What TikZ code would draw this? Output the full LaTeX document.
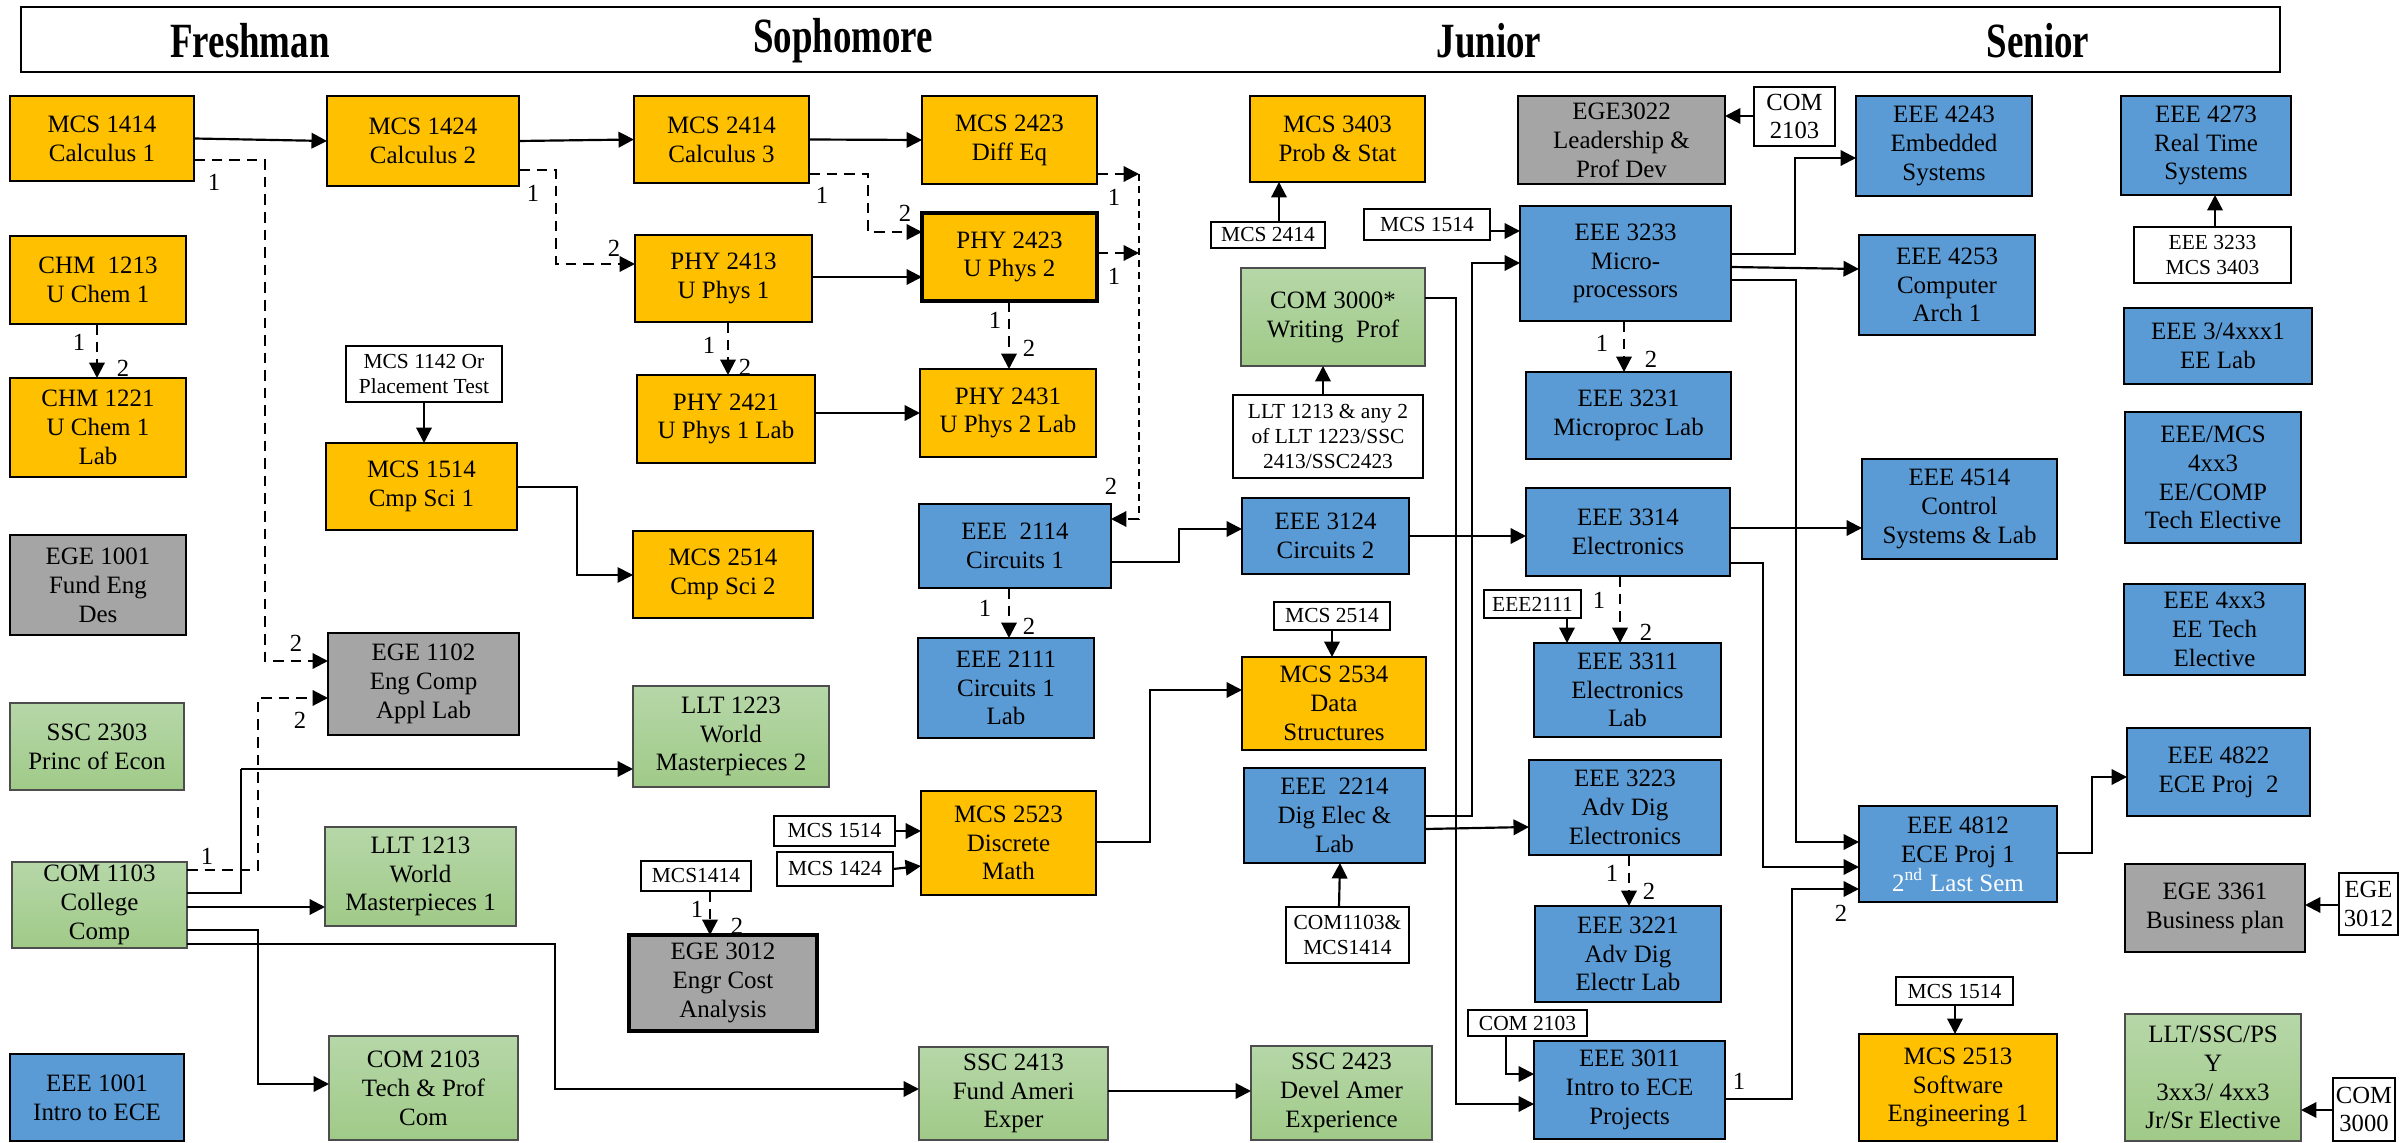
\documentclass[tikz,border=0pt]{standalone}
\usepackage{fontspec}
\setmainfont{Liberation Serif}
\usepackage{graphicx}
\usetikzlibrary{arrows.meta}
\definecolor{cOr}{HTML}{FFC000}
\definecolor{cBl}{HTML}{5B9BD5}
\definecolor{cGy}{HTML}{A5A5A5}
\definecolor{cGt}{HTML}{B6D7A8}
\definecolor{cGb}{HTML}{A0CA88}
\definecolor{cGe}{HTML}{4D4D4D}
\newcommand\Bx[7]{\node[#1, minimum width={(#5-#3)*0.01cm}, minimum height={(#6-#4)*0.01cm}] (#2) at ({(#3+#5)/2},{(#4+#6)/2}) {#7};}
\newcommand\Lb[3]{\node[lbl] (#1) at (#2) {#3};}
\newcommand\Hd[3]{\node[hdt] (#1) at (#2) {\scalebox{0.75}[1]{#3}};}
\begin{document}
\begin{tikzpicture}[x=0.01cm,y=-0.01cm,
  base/.style={inner sep=0pt, outer sep=0pt, align=center, font=\fontsize{7.1}{8.2}\selectfont},
  ob/.style={base, fill=cOr, draw=black, line width=0.75pt},
  bb/.style={base, fill=cBl, draw=black, line width=0.75pt},
  gb/.style={base, fill=cGy, draw=black, line width=0.75pt},
  grb/.style={base, top color=cGt, bottom color=cGb, draw=cGe, line width=0.45pt},
  wb/.style={base, fill=white, draw=black, line width=0.5pt, font=\fontsize{6.1}{7.2}\selectfont},
  wbl/.style={wb, font=\fontsize{7}{8.2}\selectfont},
  thk/.style={line width=1.4pt},
  ar/.style={line width=0.62pt, -{Triangle[length=4.4pt,width=4.4pt]}},
  dar/.style={ar, dash pattern=on 3pt off 2pt},
  thn/.style={line width=0.4pt},
  lbl/.style={inner sep=0pt, font=\fontsize{7}{8}\selectfont},
  hdt/.style={inner sep=0pt, font=\fontsize{14}{16}\selectfont\bfseries}]
\useasboundingbox (0,0) rectangle (2402,1143);
% header
\Bx{base,draw=black,line width=0.8pt}{hdr}{21}{7}{2280}{72}{}
\Hd{hF}{250,41}{Freshman}
\Hd{hS}{843,41}{Sophomore}
\Hd{hJ}{1489,41}{Junior}
\Hd{hR}{2038,41}{Senior}
% orange
\Bx{ob}{m1414}{10}{96}{194}{181}{MCS 1414\\Calculus 1}
\Bx{ob}{m1424}{327}{96}{519}{186}{MCS 1424\\Calculus 2}
\Bx{ob}{m2414}{634}{96}{809}{183}{MCS 2414\\Calculus 3}
\Bx{ob}{m2423}{922}{96}{1097}{184}{MCS 2423\\Diff Eq}
\Bx{ob}{m3403}{1250}{96}{1425}{182}{MCS 3403\\Prob \& Stat}
\Bx{ob}{chm1213}{10}{236}{186}{324}{CHM\ \ 1213\\U Chem 1}
\Bx{ob}{chm1221}{10}{378}{186}{477}{CHM 1221\\U Chem 1\\Lab}
\Bx{ob}{p2413}{635}{235}{812}{322}{PHY 2413\\U Phys 1}
\Bx{ob,thk}{p2423}{922}{213}{1097}{301}{PHY 2423\\U Phys 2}
\Bx{ob}{p2421}{637}{375}{815}{463}{PHY 2421\\U Phys 1 Lab}
\Bx{ob}{p2431}{920}{369}{1096}{457}{PHY 2431\\U Phys 2 Lab}
\Bx{ob}{m1514}{326}{443}{517}{530}{MCS 1514\\Cmp Sci 1}
\Bx{ob}{m2514}{633}{531}{813}{618}{MCS 2514\\Cmp Sci 2}
\Bx{ob}{m2523}{921}{791}{1096}{895}{MCS 2523\\Discrete\\Math}
\Bx{ob}{m2534}{1242}{657}{1426}{750}{MCS 2534\\Data\\Structures}
\Bx{ob}{m2513}{1859}{1034}{2057}{1141}{MCS 2513\\Software\\Engineering 1}
% gray
\Bx{gb}{ege1001}{10}{535}{186}{635}{EGE 1001\\Fund Eng\\Des}
\Bx{gb}{ege1102}{328}{633}{519}{735}{EGE 1102\\Eng Comp\\Appl Lab}
\Bx{gb,thk}{ege3012}{629}{935}{817}{1031}{EGE 3012\\Engr Cost\\Analysis}
\Bx{gb}{ege3022}{1518}{96}{1725}{184}{EGE3022\\Leadership \&\\Prof Dev}
\Bx{gb}{ege3361}{2125}{864}{2305}{952}{EGE 3361\\Business plan}
% green
\Bx{grb}{ssc2303}{10}{703}{184}{790}{SSC 2303\\Princ of Econ}
\Bx{grb}{com1103}{12}{862}{187}{948}{COM 1103\\College\\Comp}
\Bx{grb}{llt1213}{325}{827}{516}{926}{LLT 1213\\World\\Masterpieces 1}
\Bx{grb}{llt1223}{633}{686}{829}{787}{LLT 1223\\World\\Masterpieces 2}
\Bx{grb}{com2103}{329}{1036}{518}{1140}{COM 2103\\Tech \& Prof\\Com}
\Bx{grb}{ssc2413}{919}{1047}{1108}{1140}{SSC 2413\\Fund Ameri\\Exper}
\Bx{grb}{ssc2423}{1251}{1046}{1432}{1140}{SSC 2423\\Devel Amer\\Experience}
\Bx{grb}{com3000}{1241}{268}{1425}{366}{COM 3000*\\Writing\ \ Prof}
\Bx{grb}{lltssc}{2125}{1014}{2301}{1141}{LLT/SSC/PS\\Y\\3xx3/ 4xx3\\Jr/Sr Elective}
% blue
\Bx{bb}{eee1001}{10}{1054}{184}{1141}{EEE 1001\\Intro to ECE}
\Bx{bb}{eee2114}{919}{504}{1111}{588}{EEE\ \ 2114\\Circuits 1}
\Bx{bb}{eee2111}{918}{638}{1094}{738}{EEE 2111\\Circuits 1\\Lab}
\Bx{bb}{eee3124}{1242}{498}{1409}{574}{EEE 3124\\Circuits 2}
\Bx{bb}{eee2214}{1244}{768}{1425}{863}{EEE\ \ 2214\\Dig Elec \&\\Lab}
\Bx{bb}{eee3233}{1520}{206}{1731}{321}{EEE 3233\\Micro-\\processors}
\Bx{bb}{eee3231}{1526}{372}{1731}{459}{EEE 3231\\Microproc Lab}
\Bx{bb}{eee3314}{1526}{488}{1730}{576}{EEE 3314\\Electronics}
\Bx{bb}{eee3311}{1534}{643}{1721}{737}{EEE 3311\\Electronics\\Lab}
\Bx{bb}{eee3223}{1529}{760}{1721}{855}{EEE 3223\\Adv Dig\\Electronics}
\Bx{bb}{eee3221}{1535}{906}{1721}{1002}{EEE 3221\\Adv Dig\\Electr Lab}
\Bx{bb}{eee3011}{1534}{1041}{1725}{1139}{EEE 3011\\Intro to ECE\\Projects}
\Bx{bb}{eee4243}{1856}{96}{2032}{196}{EEE 4243\\Embedded\\Systems}
\Bx{bb}{eee4253}{1859}{235}{2035}{335}{EEE 4253\\Computer\\Arch 1}
\Bx{bb}{eee4514}{1862}{459}{2057}{559}{EEE 4514\\Control\\Systems \& Lab}
\Bx{bb}{eee4812}{1859}{806}{2057}{902}{EEE 4812\\ECE Proj 1\\{\color{white}2\textsuperscript{nd} Last Sem}}
\Bx{bb}{eee4273}{2121}{96}{2291}{195}{EEE 4273\\Real Time\\Systems}
\Bx{bb}{eee34}{2124}{308}{2312}{384}{EEE 3/4xxx1\\EE Lab}
\Bx{bb}{eeemcs}{2125}{412}{2301}{543}{EEE/MCS\\4xx3\\EE/COMP\\Tech Elective}
\Bx{bb}{eee4xx3}{2124}{584}{2305}{675}{EEE 4xx3\\EE Tech\\Elective}
\Bx{bb}{eee4822}{2127}{728}{2310}{816}{EEE 4822\\ECE Proj\ \ 2}
% white prerequisite boxes
\Bx{wb}{wA}{346}{346}{502}{402}{MCS 1142 Or\\Placement Test}
\Bx{wb}{wB}{1211}{222}{1325}{248}{MCS 2414}
\Bx{wb}{wC}{1364}{209}{1490}{240}{MCS 1514}
\Bx{wbl}{wD}{1754}{87}{1835}{146}{COM\\2103}
\Bx{wb}{wE}{1233}{395}{1423}{478}{LLT 1213 \& any 2\\of LLT 1223/SSC\\2413/SSC2423}
\Bx{wb}{wF}{2134}{227}{2291}{283}{EEE 3233\\MCS 3403}
\Bx{wb}{wG}{1274}{602}{1390}{630}{MCS 2514}
\Bx{wb}{wH}{1484}{590}{1581}{618}{EEE2111}
\Bx{wb}{wI}{774}{816}{895}{846}{MCS 1514}
\Bx{wb}{wJ}{777}{852}{893}{886}{MCS 1424}
\Bx{wb}{wK}{641}{861}{751}{891}{MCS1414}
\Bx{wb}{wL}{1286}{907}{1409}{963}{COM1103\&\\MCS1414}
\Bx{wb}{wM}{1468}{1010}{1587}{1036}{COM 2103}
\Bx{wb}{wN}{1896}{977}{2013}{1005}{MCS 1514}
\Bx{wbl}{wO}{2339}{873}{2398}{935}{EGE\\3012}
\Bx{wbl}{wP}{2333}{1078}{2395}{1141}{COM\\3000}
% bus coordinates
\coordinate (bus1) at (1139,174);
\coordinate (bus2) at (1139,253);
\coordinate (bus3) at (1139,519);
% solid connectors
\draw[ar] (m1414.east) -- (m1424.west);
\draw[ar] (m1424.east) -- (m2414.west);
\draw[ar] (m2414.east) -- (m2423.west);
\draw[ar] (wA.south) -- (wA.south |- m1514.north);
\draw[ar,line width=0.5pt] (m1514.east |- 0,487) -| (577,575) -- (m2514.west |- 0,575);
\draw[thn] (com1103.east |- 0,893) -| (241,769);
\draw[ar] (241,769) -- (llt1223.west |- 0,769);
\draw[ar] (com1103.east |- 0,907) -- (llt1213.west |- 0,907);
\draw[ar] (com1103.east |- 0,930) -| (258,1084) -- (com2103.west |- 0,1084);
\draw[ar] (com1103.east |- 0,944) -| (555,1089) -- (ssc2413.west |- 0,1089);
\draw[ar] (p2413.east |- 0,277) -- (p2423.west |- 0,277);
\draw[ar] (p2421.east |- 0,413) -- (p2431.west |- 0,413);
\draw[ar] (eee2114.east |- 0,562) -| (1179,529) -- (eee3124.west |- 0,529);
\draw[ar] (eee3124.east |- 0,536) -- (eee3314.west |- 0,536);
\draw[ar] (eee3314.east |- 0,528) -- (eee4514.west |- 0,528);
\draw[ar] (eee3314.east |- 0,563) -| (1763,867) -- (eee4812.west |- 0,867);
\draw[ar] (wG.south -| 1332,0) -- (m2534.north -| 1332,0);
\draw[thn] (m2523.east |- 0,842) -| (1150,690) -- (1194,690);
\draw[ar] (1194,690) -- (m2534.west |- 0,690);
\draw[ar] (wI.east) -- (m2523.west |- wI.east);
\draw[ar] (wJ.east) -- (m2523.west |- 0,866);
\draw[ar] (ssc2413.east |- 0,1091) -- (ssc2423.west |- 0,1091);
\draw[ar] (wB.north -| 1279,0) -- (m3403.south -| 1279,0);
\draw[ar] (wE.north -| 1323,0) -- (com3000.south -| 1323,0);
\draw[ar] (com3000.east |- 0,298) -| (1456,1104) -- (eee3011.west |- 0,1104);
\draw[ar] (eee2214.east |- 0,816) -| (1472,263) -- (eee3233.west |- 0,263);
\draw[ar] (eee2214.east |- 0,829) -- (eee3223.west |- 0,827);
\draw[ar] (wL.north -| 1339,0) -- (eee2214.south -| 1340,0);
\draw[ar] (wC.east |- 0,231) -- (eee3233.west |- 0,231);
\draw[ar] (wD.west |- 0,116) -- (ege3022.east |- 0,116);
\draw[ar] (eee3233.east |- 0,254) -| (1795,158) -- (eee4243.west |- 0,158);
\draw[ar] (eee3233.east |- 0,267) -- (eee4253.west |- 0,269);
\draw[ar] (eee3233.east |- 0,280) -| (1796,842) -- (eee4812.west |- 0,842);
\draw[ar] (wH.south -| 1567,0) -- (eee3311.north -| 1567,0);
\draw[ar] (wM.south -| 1506,0) |- (eee3011.west |- 0,1074);
\draw[ar] (eee3011.east |- 0,1099) -| (1792,889) -- (eee4812.west |- 0,889);
\draw[ar] (eee4812.east |- 0,853) -| (2092,777) -- (eee4822.west |- 0,777);
\draw[ar] (wF.north -| 2215,0) -- (eee4273.south -| 2215,0);
\draw[ar] (wO.west |- 0,905) -- (ege3361.east |- 0,905);
\draw[ar] (wN.south -| 1955,0) -- (m2513.north -| 1955,0);
\draw[ar] (wP.west |- 0,1110) -- (lltssc.east |- 0,1110);
% dashed connectors
\draw[dar] (m1414.east |- 0,160) -| (265,661) -- (ege1102.west |- 0,661);
\draw[dar] (m1424.east |- 0,170) -| (556,264) -- (p2413.west |- 0,264);
\draw[dar] (chm1213.south -| 97,0) -- (chm1221.north -| 97,0);
\draw[dar] (com1103.east |- 0,870) -| (258,698) -- (ege1102.west |- 0,698);
\draw[dar] (m2414.east |- 0,174) -| (868,232) -- (p2423.west |- 0,232);
\draw[dar] (p2413.south -| 728,0) -- (p2421.north -| 728,0);
\draw[dar] (p2423.south -| 1009,0) -- (p2431.north -| 1009,0);
\draw[dar] (m2423.east |- bus1) -- (bus1);
\draw[dar] (p2423.east |- bus2) -- (bus2);
\draw[thn, dash pattern=on 2pt off 1.5pt] (bus1) -- (bus3);
\draw[dar] (bus3) -- (eee2114.east |- bus3);
\draw[dar] (eee2114.south -| 1009,0) -- (eee2111.north -| 1009,0);
\draw[dar] (wK.south -| 710,0) -- (ege3012.north -| 710,0);
\draw[dar] (eee3233.south -| 1624,0) -- (eee3231.north -| 1624,0);
\draw[dar] (eee3314.south -| 1620,0) -- (eee3311.north -| 1620,0);
\draw[dar] (eee3223.south -| 1629,0) -- (eee3221.north -| 1629,0);
% labels
\Lb{a1}{214,182}{1}
\Lb{a2}{296,643}{2}
\Lb{b1}{533,193}{1}
\Lb{b2}{614,248}{2}
\Lb{c1}{79,342}{1}
\Lb{c2}{123,368}{2}
\Lb{d1}{207,856}{1}
\Lb{d2}{300,720}{2}
\Lb{e1}{822,195}{1}
\Lb{e2}{905,213}{2}
\Lb{f1}{709,345}{1}
\Lb{f2}{745,367}{2}
\Lb{g1}{995,320}{1}
\Lb{g2}{1029,348}{2}
\Lb{h1}{1114,197}{1}
\Lb{h2}{1114,276}{1}
\Lb{h3}{1111,486}{2}
\Lb{i1}{985,608}{1}
\Lb{i2}{1029,626}{2}
\Lb{j1}{697,909}{1}
\Lb{j2}{737,926}{2}
\Lb{k1}{1602,343}{1}
\Lb{k2}{1651,359}{2}
\Lb{n1}{1599,600}{1}
\Lb{n2}{1646,632}{2}
\Lb{o1}{1612,873}{1}
\Lb{o2}{1649,891}{2}
\Lb{q1}{1739,1081}{1}
\Lb{q2}{1841,913}{2}
\end{tikzpicture}
\end{document}
